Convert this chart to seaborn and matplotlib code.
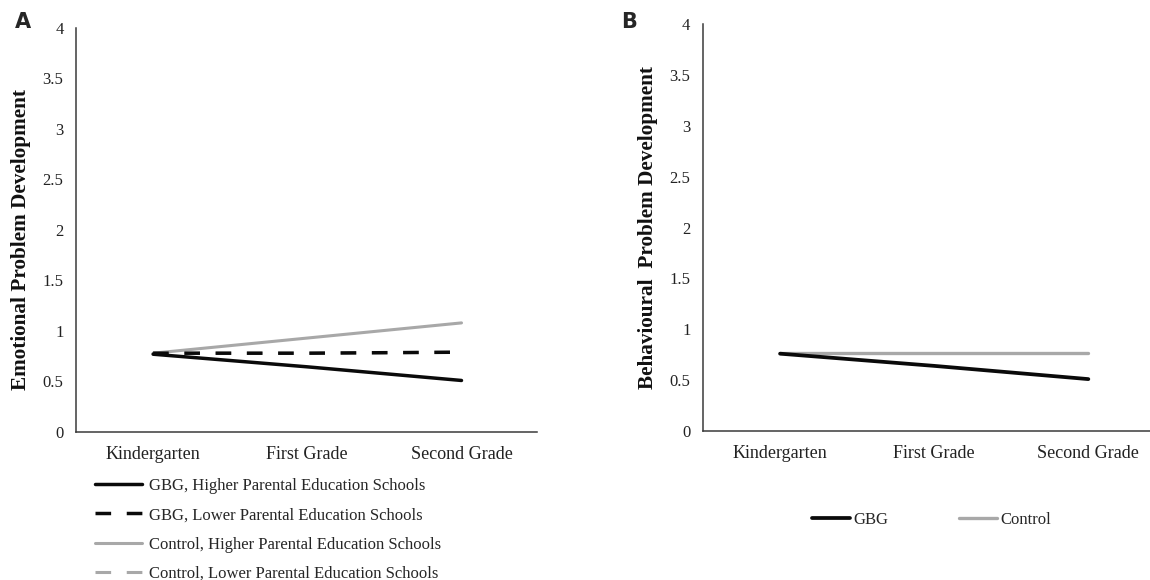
import numpy as np
import pandas as pd
import matplotlib
matplotlib.use("Agg")
import matplotlib.pyplot as plt
import seaborn as sns

# Datos
grades = ["Kindergarten", "First Grade", "Second Grade"]

# Panel A: problemas emocionales
gbg_higher = [0.77, 0.645, 0.51]
gbg_lower = [0.78, 0.78, 0.79]
control_higher = [0.78, 0.93, 1.08]
control_lower = [0.78, 0.78, 0.79]  # queda tapada por la linea GBG discontinua

# Panel B: problemas de conducta
gbg_b = [0.76, 0.64, 0.51]
control_b = [0.77, 0.77, 0.77]

yticks = [0, 0.5, 1, 1.5, 2, 2.5, 3, 3.5, 4]

sns.set_theme(style="white")
plt.rcParams['font.family'] = ['Liberation Serif', 'DejaVu Serif']

BLACK = "#0a0a0a"
GRAY = "#a8a8a8"
LW_NEGRO = 2.5
LW_GRIS = 2.2
# los guiones escalan con el grosor: mismo largo en pixeles para ambas
DASH_NEGRO = (0, (4.5, 4.5))
DASH_GRIS = (0, (4.5 * LW_NEGRO / LW_GRIS, 4.5 * LW_NEGRO / LW_GRIS))

fig = plt.figure(figsize=(11.5, 5.8), dpi=100)
ax_a = fig.add_axes([0.0661, 0.2552, 0.4009, 0.6966])
ax_b = fig.add_axes([0.6113, 0.2569, 0.3887, 0.7017])


def estilo_ejes(ax, xmax, ylabel, ylabel_x, ylabel_y):
    ax.set_xlim(-0.5, xmax)
    ax.set_ylim(0, 4)
    ax.set_yticks(yticks)
    ax.set_yticklabels([f"{v:g}" for v in yticks])
    ax.set_xticks(range(len(grades)))
    ax.set_xticklabels(grades)
    for s in ["top", "right"]:
        ax.spines[s].set_visible(False)
    for s in ["left", "bottom"]:
        ax.spines[s].set_color("#3a3a3a")
        ax.spines[s].set_linewidth(1.1)
    ax.tick_params(axis="y", length=0, pad=9, labelsize=12, colors="#222222")
    ax.tick_params(axis="x", direction="inout", length=6, width=1, color="#3a3a3a",
                   pad=7, labelsize=13, labelcolor="#222222")
    ax.set_xlabel("")
    ax.set_ylabel(ylabel, fontsize=15.3, fontweight="bold", color="#111111")
    ax.yaxis.set_label_coords(ylabel_x, ylabel_y)


# Panel A
sns.lineplot(x=grades, y=control_lower, ax=ax_a, color=GRAY, lw=LW_GRIS, linestyle=DASH_GRIS,
             label="Control, Lower Parental Education Schools", sort=False)
sns.lineplot(x=grades, y=control_higher, ax=ax_a, color=GRAY, lw=LW_GRIS,
             label="Control, Higher Parental Education Schools", sort=False)
sns.lineplot(x=grades, y=gbg_lower, ax=ax_a, color=BLACK, lw=LW_NEGRO, linestyle=DASH_NEGRO,
             label="GBG, Lower Parental Education Schools", sort=False)
sns.lineplot(x=grades, y=gbg_higher, ax=ax_a, color=BLACK, lw=LW_NEGRO,
             label="GBG, Higher Parental Education Schools", sort=False)
estilo_ejes(ax_a, 2.49, "Emotional Problem Development", -0.098, 0.477)

handles, labels = ax_a.get_legend_handles_labels()
orden = [3, 2, 1, 0]
ax_a.legend([handles[i] for i in orden], [labels[i] for i in orden],
            loc="upper left", bbox_to_anchor=(0.083, 0.176), bbox_transform=fig.transFigure,
            frameon=False, fontsize=12, handlelength=2.8, handletextpad=0.4,
            labelspacing=0.8, borderaxespad=0, borderpad=0)

# Panel B
sns.lineplot(x=grades, y=control_b, ax=ax_b, color=GRAY, lw=2.4, label="Control", sort=False)
sns.lineplot(x=grades, y=gbg_b, ax=ax_b, color=BLACK, lw=2.7, label="GBG", sort=False)
estilo_ejes(ax_b, 2.40, "Behavioural  Problem Development", -0.10, 0.5)

handles, labels = ax_b.get_legend_handles_labels()
ax_b.legend([handles[1], handles[0]], [labels[1], labels[0]],
            loc="center left", bbox_to_anchor=(0.706, 0.104), bbox_transform=fig.transFigure,
            frameon=False, fontsize=12, ncol=2, handlelength=2.3, handletextpad=0.2,
            columnspacing=4.2, borderaxespad=0, borderpad=0)

# Letras de panel
fig.text(0.013, 0.962, "A", fontsize=15, fontweight="bold", family=["DejaVu Sans"],
         va="center", ha="left")
fig.text(0.540, 0.962, "B", fontsize=15, fontweight="bold", family=["DejaVu Sans"],
         va="center", ha="left")

fig.savefig("out.png", dpi=100, facecolor="white")
